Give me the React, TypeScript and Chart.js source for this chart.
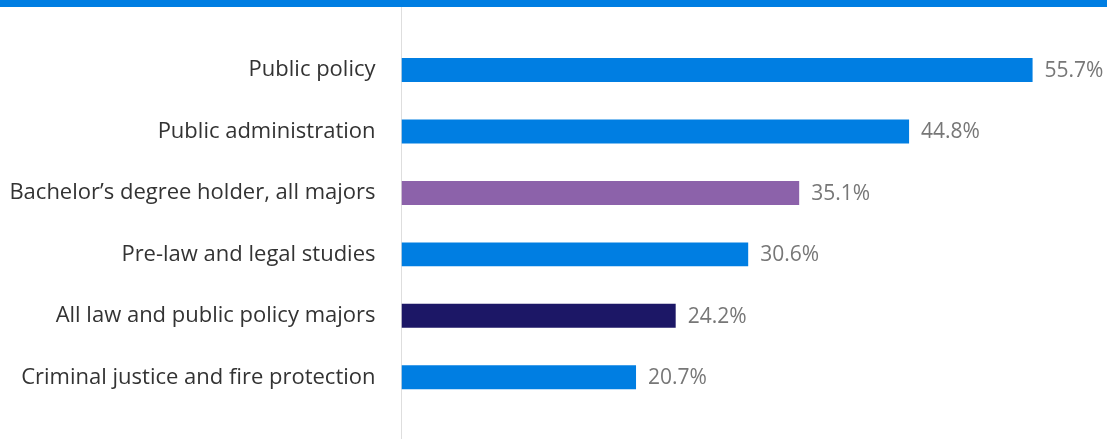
import React, { useEffect, useRef } from "react";
import { Chart, registerables } from "chart.js";

Chart.register(...registerables);

const categories = [
  "Public policy",
  "Public administration",
  "Bachelor’s degree holder, all majors",
  "Pre-law and legal studies",
  "All law and public policy majors",
  "Criminal justice and fire protection",
];
const values = [55.7, 44.8, 35.1, 30.6, 24.2, 20.7];
const barColors = ["#007ee2", "#007ee2", "#8c62aa", "#007ee2", "#1c1766", "#007ee2"];

const FONT = "'Open Sans', 'Noto Sans', sans-serif";

const zeroLinePlugin = {
  id: "zeroLine",
  beforeDatasetsDraw(chart: any) {
    const { ctx } = chart;
    const x = Math.round(chart.scales.x.getPixelForValue(0)) - 0.5;
    ctx.save();
    ctx.strokeStyle = "#dedede";
    ctx.lineWidth = 1;
    ctx.beginPath();
    ctx.moveTo(x, 0);
    ctx.lineTo(x, chart.height);
    ctx.stroke();
    ctx.restore();
  },
};

const valueLabelPlugin = {
  id: "valueLabels",
  afterDatasetsDraw(chart: any) {
    const { ctx } = chart;
    const meta = chart.getDatasetMeta(0);
    ctx.save();
    ctx.fillStyle = "#777777";
    ctx.font = `21px ${FONT}`;
    ctx.textAlign = "left";
    ctx.textBaseline = "middle";
    meta.data.forEach((bar: any, i: number) => {
      ctx.fillText(values[i].toFixed(1) + "%", bar.x + 12, bar.y + 1);
    });
    ctx.restore();
  },
};

export default function App() {
  const ref = useRef<HTMLCanvasElement>(null);
  useEffect(() => {
    document.body.style.margin = "0";
    if (!ref.current) return;
    const chart = new Chart(ref.current, {
      type: "bar",
      data: {
        labels: categories,
        datasets: [
          {
            data: values,
            backgroundColor: barColors,
            barPercentage: 0.39,
            categoryPercentage: 1,
          },
        ],
      },
      options: {
        indexAxis: "y",
        animation: false,
        responsive: false,
        maintainAspectRatio: false,
        layout: { padding: { top: 32.3, bottom: 31, right: 25.7, left: 0 } },
        plugins: { legend: { display: false }, tooltip: { enabled: false } },
        scales: {
          x: {
            min: 0,
            max: 60,
            display: false,
            grid: { display: false },
          },
          y: {
            grid: { display: false, drawTicks: false },
            border: { display: false },
            ticks: {
              color: "#333333",
              font: { family: FONT, size: 22 },
              padding: 26,
            },
            afterFit: (scale: any) => {
              scale.width = 401.5;
              scale.paddingTop = 0;
              scale.paddingBottom = 0;
            },
          },
        },
      },
      plugins: [zeroLinePlugin, valueLabelPlugin],
    });
    return () => chart.destroy();
  }, []);
  return (
    <div style={{ width: 1107, height: 439, background: "#fff" }}>
      <div style={{ height: 7, background: "#007ee2" }} />
      <canvas ref={ref} width={1107} height={432} style={{ display: "block" }} />
    </div>
  );
}
